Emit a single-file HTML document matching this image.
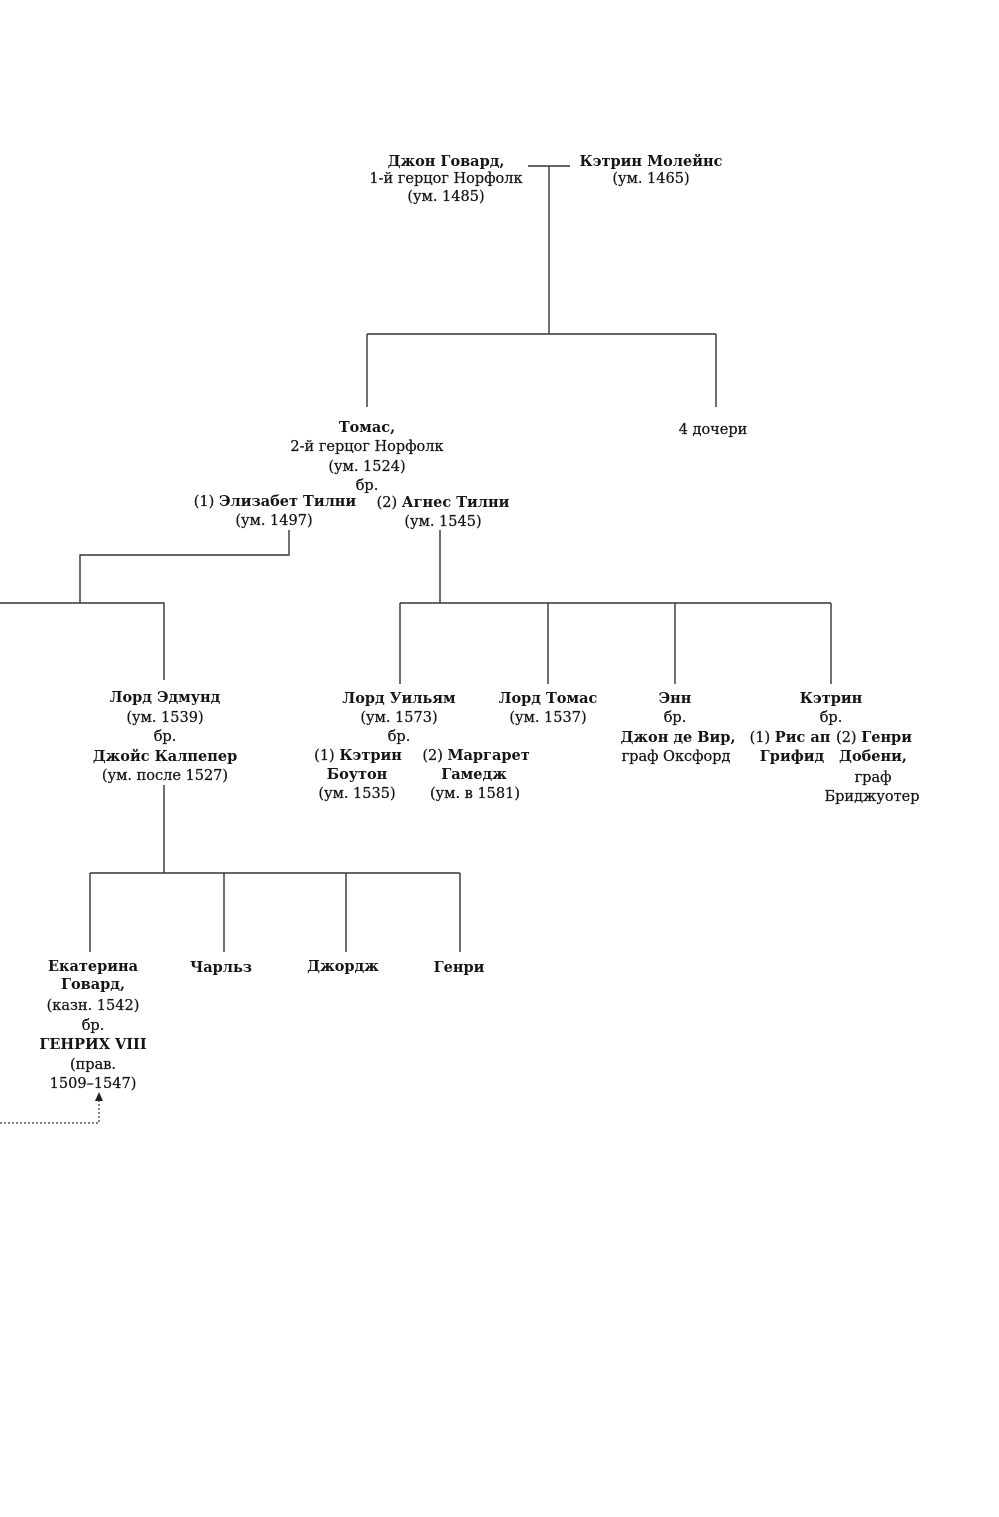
<!DOCTYPE html>
<html><head><meta charset="utf-8">
<style>
html,body{margin:0;padding:0;background:#fff;}
svg{display:block;}
text{font-family:"DejaVu Serif","Liberation Serif",serif;font-size:14.5px;fill:#151515;text-anchor:middle;stroke:#151515;stroke-width:0.25px;}
.b{font-weight:bold;stroke-width:0;}
</style></head>
<body>
<svg width="999" height="1517" viewBox="0 0 999 1517" xmlns="http://www.w3.org/2000/svg">
<g stroke="#333" stroke-width="1.4" fill="none">
<path d="M528,166 H570"/>
<path d="M549,166 V334"/>
<path d="M367,334 H716"/>
<path d="M367,334 V407"/>
<path d="M716,334 V407"/>
<path d="M289,530 V555 H80 V603"/>
<path d="M0,603 H164 V680"/>
<path d="M440,530 V603"/>
<path d="M400,603 H831"/>
<path d="M400,603 V684"/>
<path d="M548,603 V684"/>
<path d="M675,603 V684"/>
<path d="M831,603 V684"/>
<path d="M164,785 V873"/>
<path d="M90,873 H460"/>
<path d="M90,873 V952"/>
<path d="M224,873 V952"/>
<path d="M346,873 V952"/>
<path d="M460,873 V952"/>
<path d="M99,1100 V1123 H0" stroke-dasharray="2,2" stroke-width="1.2"/>
</g>
<polygon points="99,1092 95,1101 103,1101" fill="#222"/>

<!-- top -->
<text x="446" y="166" class="b">Джон Говард,</text>
<text x="446" y="183">1-й герцог Норфолк</text>
<text x="446" y="201">(ум. 1485)</text>
<text x="651" y="166" class="b">Кэтрин Молейнс</text>
<text x="651" y="183">(ум. 1465)</text>

<!-- Thomas -->
<text x="367" y="432" class="b">Томас,</text>
<text x="367" y="451">2-й герцог Норфолк</text>
<text x="367" y="471">(ум. 1524)</text>
<text x="367" y="490">бр.</text>
<text x="275" y="506"><tspan>(1) </tspan><tspan class="b">Элизабет Тилни</tspan></text>
<text x="274" y="525">(ум. 1497)</text>
<text x="443" y="507"><tspan>(2) </tspan><tspan class="b">Агнес Тилни</tspan></text>
<text x="443" y="526">(ум. 1545)</text>
<text x="713" y="434">4 дочери</text>

<!-- Edmund -->
<text x="165" y="702" class="b">Лорд Эдмунд</text>
<text x="165" y="722">(ум. 1539)</text>
<text x="165" y="741">бр.</text>
<text x="165" y="761" class="b">Джойс Калпепер</text>
<text x="165" y="780">(ум. после 1527)</text>

<!-- William -->
<text x="399" y="703" class="b">Лорд Уильям</text>
<text x="399" y="722">(ум. 1573)</text>
<text x="399" y="741">бр.</text>
<text x="358" y="760"><tspan>(1) </tspan><tspan class="b">Кэтрин</tspan></text>
<text x="357" y="779" class="b">Боутон</text>
<text x="357" y="798">(ум. 1535)</text>
<text x="476" y="760"><tspan>(2) </tspan><tspan class="b">Маргарет</tspan></text>
<text x="474" y="779" class="b">Гамедж</text>
<text x="475" y="798">(ум. в 1581)</text>

<!-- Lord Thomas -->
<text x="548" y="703" class="b">Лорд Томас</text>
<text x="548" y="722">(ум. 1537)</text>

<!-- Anne -->
<text x="675" y="703" class="b">Энн</text>
<text x="675" y="722">бр.</text>
<text x="678" y="742" class="b">Джон де Вир,</text>
<text x="676" y="761">граф Оксфорд</text>

<!-- Catherine -->
<text x="831" y="703" class="b">Кэтрин</text>
<text x="831" y="722">бр.</text>
<text x="790" y="742"><tspan>(1) </tspan><tspan class="b">Рис ап</tspan></text>
<text x="792" y="761" class="b">Грифид</text>
<text x="874" y="742"><tspan>(2) </tspan><tspan class="b">Генри</tspan></text>
<text x="873" y="761" class="b">Добени,</text>
<text x="873" y="782">граф</text>
<text x="872" y="801">Бриджуотер</text>

<!-- children -->
<text x="93" y="971" class="b">Екатерина</text>
<text x="93" y="989" class="b">Говард,</text>
<text x="93" y="1010">(казн. 1542)</text>
<text x="93" y="1030">бр.</text>
<text x="93" y="1049" class="b">ГЕНРИХ VIII</text>
<text x="93" y="1069">(прав.</text>
<text x="93" y="1088">1509–1547)</text>
<text x="221" y="972" class="b">Чарльз</text>
<text x="343" y="971" class="b">Джордж</text>
<text x="459" y="972" class="b">Генри</text>
</svg>
</body></html>
